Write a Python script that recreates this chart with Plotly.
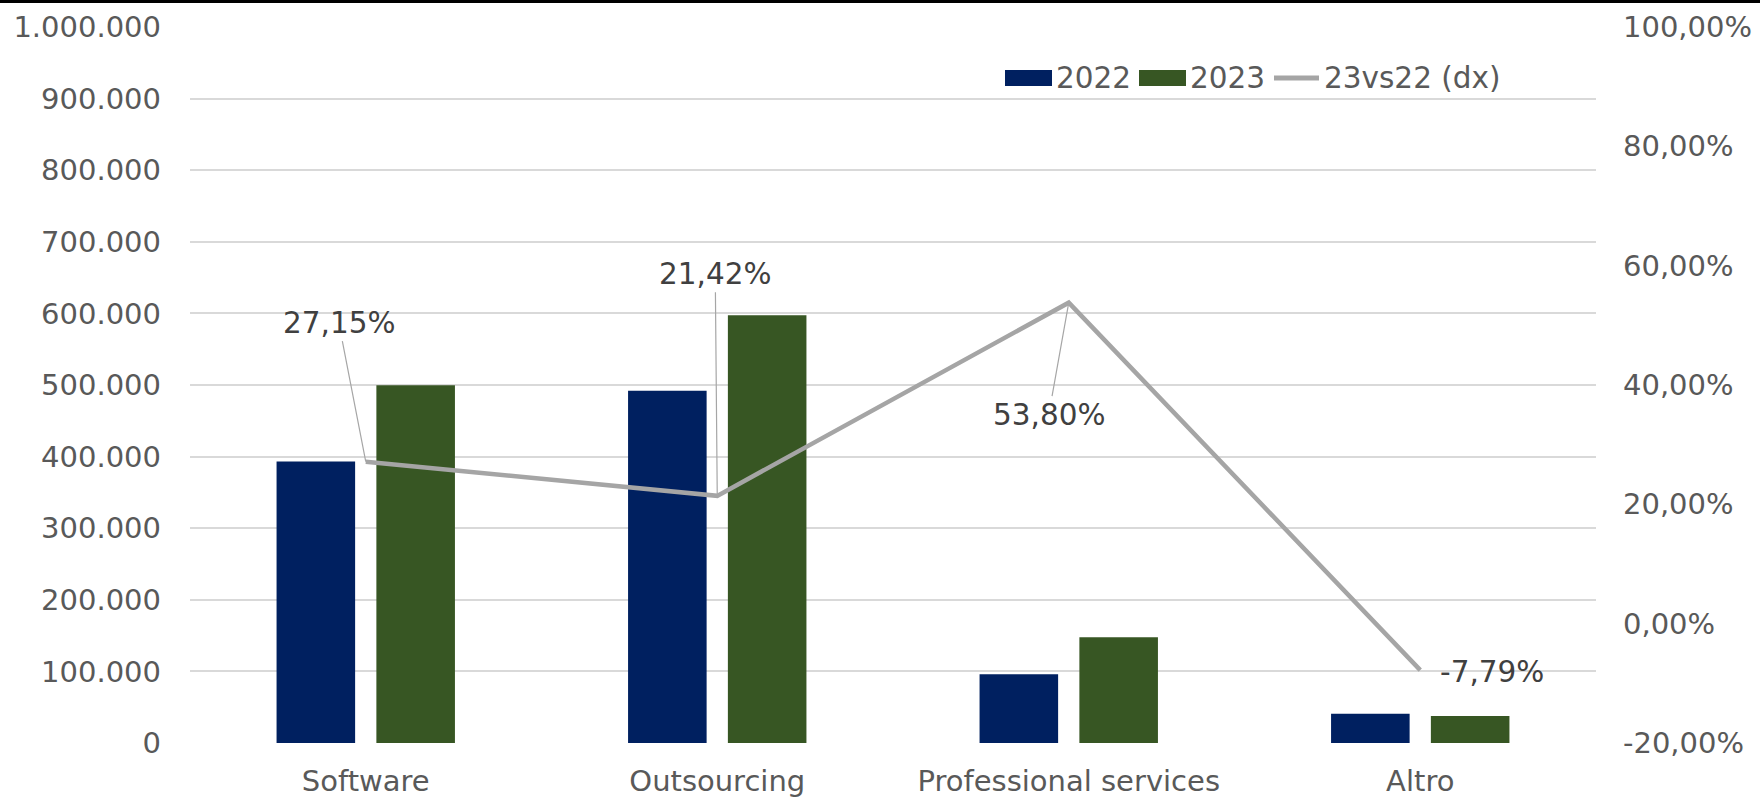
import plotly.graph_objects as go

# Categories and series
categories = ["Software", "Outsourcing", "Professional services", "Altro"]
values_2022 = [393000, 492000, 96000, 41000]
values_2023 = [499700, 597400, 147600, 37800]
growth_23vs22 = [0.2715, 0.2142, 0.5380, -0.0779]

# Right-axis tick values
pct_ticks = [-0.2, 0.0, 0.2, 0.4, 0.6, 0.8, 1.0]

# Label placement (pixel offsets from each point)
label_ax = [-27, -2, -20, None]
label_ay = [-139, -222, 112, None]

W, H = 1760, 798
ML, MR, MT, MB = 190, 164, 27, 55
PW, PH = W - ML - MR, H - MT - MB

FONT = "DejaVu Sans"
TICK_COLOR = "#595959"
LABEL_COLOR = "#404040"
NAVY = "#002060"
GREEN = "#375623"
GREY_LINE = "#a5a5a5"
TICK_SIZE = 29
LABEL_SIZE = 29.5


def px_x(px):
    return (px - ML) / PW


def px_y(py):
    return 1 - (py - MT) / PH


def pct_label(v):
    return f"{v * 100:.2f}".replace(".", ",") + "%"


fig = go.Figure()
fig.add_trace(go.Bar(x=categories, y=values_2022, name="2022",
                     marker=dict(color=NAVY, line=dict(width=0)), showlegend=False))
fig.add_trace(go.Bar(x=categories, y=values_2023, name="2023",
                     marker=dict(color=GREEN, line=dict(width=0)), showlegend=False))
fig.add_trace(go.Scatter(x=categories, y=growth_23vs22, name="23vs22 (dx)", yaxis="y2",
                         mode="lines", line=dict(color=GREY_LINE, width=4.5),
                         showlegend=False))

annotations = []
for cat, v, ax, ay in zip(categories, growth_23vs22, label_ax, label_ay):
    if ax is None:
        annotations.append(dict(x=cat, y=v, xref="x", yref="y2", text=pct_label(v),
                                showarrow=False, xanchor="left", xshift=18, yshift=-2,
                                font=dict(family=FONT, size=LABEL_SIZE, color=LABEL_COLOR)))
    else:
        annotations.append(dict(x=cat, y=v, xref="x", yref="y2", text=pct_label(v),
                                showarrow=True, arrowhead=0, arrowwidth=1.2,
                                arrowcolor="#a6a6a6", standoff=0, ax=ax, ay=ay,
                                font=dict(family=FONT, size=LABEL_SIZE, color=LABEL_COLOR)))

# Legend drawn as swatches + texts
legend_font = dict(family=FONT, size=LABEL_SIZE, color=TICK_COLOR)
shapes = [
    dict(type="rect", xref="paper", yref="paper",
         x0=px_x(1005), x1=px_x(1052), y0=px_y(86), y1=px_y(70),
         fillcolor=NAVY, line=dict(width=0)),
    dict(type="rect", xref="paper", yref="paper",
         x0=px_x(1139), x1=px_x(1186), y0=px_y(86), y1=px_y(70),
         fillcolor=GREEN, line=dict(width=0)),
    dict(type="line", xref="paper", yref="paper",
         x0=px_x(1274), x1=px_x(1319), y0=px_y(78), y1=px_y(78),
         line=dict(color=GREY_LINE, width=5)),
    # top border
    dict(type="line", xref="paper", yref="paper",
         x0=px_x(0), x1=px_x(W), y0=px_y(1.5), y1=px_y(1.5),
         line=dict(color="black", width=3)),
]
for txt, xpx in [("2022", 1054), ("2023", 1188), ("23vs22 (dx)", 1322)]:
    annotations.append(dict(x=px_x(xpx), y=px_y(78), xref="paper", yref="paper",
                            text=txt, showarrow=False, xanchor="left", yanchor="middle",
                            font=legend_font))

fig.update_layout(
    width=W, height=H,
    margin=dict(l=ML, r=MR, t=MT, b=MB, autoexpand=False),
    paper_bgcolor="white", plot_bgcolor="white",
    separators=",.",
    barmode="group", bargap=0.432, bargroupgap=0.213,
    font=dict(family=FONT, size=TICK_SIZE, color=TICK_COLOR),
    xaxis=dict(showgrid=False, showline=False, zeroline=False, ticks="",
               automargin=False,
               tickfont=dict(family=FONT, size=TICK_SIZE, color=TICK_COLOR),
               ticklabelstandoff=18),
    yaxis=dict(range=[0, 1000000], dtick=100000, tickformat=",d",
               showgrid=True, gridcolor="#d9d9d9", gridwidth=1.5,
               zeroline=False, showline=False, ticks="", automargin=False,
               tickfont=dict(family=FONT, size=TICK_SIZE, color=TICK_COLOR),
               ticklabelstandoff=28),
    yaxis2=dict(range=[-0.2, 1.0], tickvals=pct_ticks,
                ticktext=[pct_label(t) for t in pct_ticks], overlaying="y",
                side="right", showgrid=False, zeroline=False, showline=False, ticks="",
                automargin=False,
                tickfont=dict(family=FONT, size=TICK_SIZE, color=TICK_COLOR),
                ticklabelstandoff=26),
    annotations=annotations,
    shapes=shapes,
)

fig.write_html("out.html")
